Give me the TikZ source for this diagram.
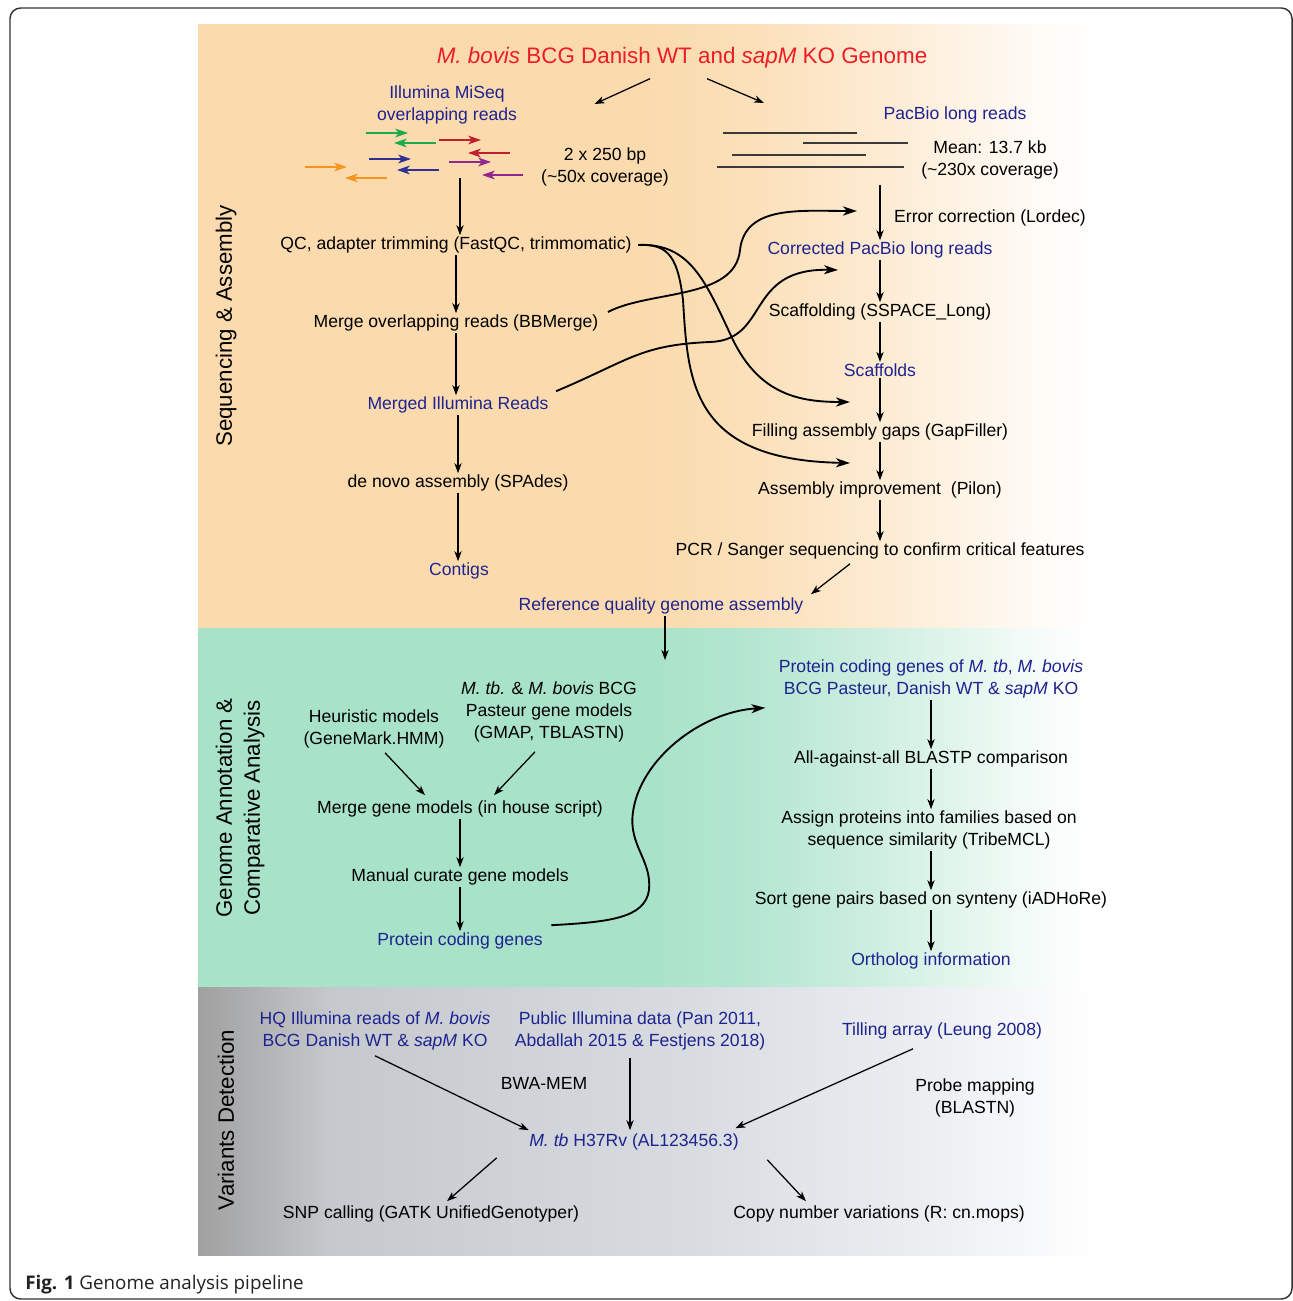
\documentclass[tikz,border=0pt]{standalone}
\usepackage{fontspec}
\setmainfont{Liberation Sans}
\newfontfamily\capfont{Open Sans}
\usetikzlibrary{arrows.meta,calc}
\definecolor{orng}{HTML}{FBDBAE}
\definecolor{grn}{HTML}{A8E2C9}
\definecolor{gryA}{HTML}{A0A0A0}
\definecolor{gryB}{HTML}{C5C8CC}
\definecolor{gryC}{HTML}{D9DDE2}
\definecolor{gryD}{HTML}{EEF0F3}
\colorlet{orA}{orng!85!white}
\colorlet{orB}{orng!60!white}
\colorlet{orC}{orng!30!white}
\colorlet{orD}{orng!10!white}
\colorlet{grA}{grn!85!white}
\colorlet{grB}{grn!60!white}
\colorlet{grC}{grn!30!white}
\colorlet{grD}{grn!10!white}
\definecolor{navy}{HTML}{1E2390}
\definecolor{ttlred}{HTML}{EE1C25}
\definecolor{rgreen}{HTML}{1DAA4B}
\definecolor{rred}{HTML}{C01F2F}
\definecolor{rblue}{HTML}{2E3192}
\definecolor{rpurple}{HTML}{92278F}
\definecolor{rorange}{HTML}{F7941D}
\definecolor{pbgrey}{HTML}{3A3A3A}
\definecolor{framec}{HTML}{333333}
\definecolor{capc}{HTML}{222222}
\pgfdeclarehorizontalshading{orsh}{100bp}{color(0bp)=(orng); color(25bp)=(orng); color(50bp)=(orng); color(56bp)=(orA); color(62bp)=(orB); color(68bp)=(orC); color(72bp)=(orD); color(75bp)=(white); color(100bp)=(white)}
\pgfdeclarehorizontalshading{grsh}{100bp}{color(0bp)=(grn); color(25bp)=(grn); color(50bp)=(grn); color(56bp)=(grA); color(62bp)=(grB); color(68bp)=(grC); color(72bp)=(grD); color(75bp)=(white); color(100bp)=(white)}
\pgfdeclarehorizontalshading{gysh}{100bp}{color(0bp)=(gryA); color(25bp)=(gryA); color(32.4bp)=(gryB); color(53bp)=(gryC); color(67bp)=(gryD); color(75bp)=(white); color(100bp)=(white)}
\newcommand\fsn{\fontsize{13.2}{16.5}\selectfont}
\newcommand\fst{\fontsize{16.8}{20}\selectfont}
\newcommand\fss{\fontsize{16.7}{21}\selectfont}
\begin{document}
\begin{tikzpicture}[x=0.75pt,y=-0.75pt,
  txt/.style={font=\fsn, align=center, inner sep=1pt, text=black, yshift=-1.5pt},
  btxt/.style={txt, text=navy},
  sec/.style={font=\fss, align=center, rotate=90, inner sep=0pt},
  arr/.style={draw, line width=0.95pt, -{Stealth[length=7.5pt,width=5.4pt,inset=2.2pt]}},
  carr/.style={draw, line width=1.4pt, -{Stealth[length=10.5pt,width=6.8pt,inset=3pt]}},
  rd/.style={draw, line width=1.5pt, -{Stealth[length=9.5pt,width=6.5pt,inset=2.5pt]}},
  pb/.style={draw=pbgrey, line width=1.3pt},
]
\useasboundingbox (0,0) rectangle (1292,1301);
\fill[white] (0,0) rectangle (1292,1301);
% ---------- panels ----------
\shade[shading=orsh] (198,25) rectangle (1095,628);
\shade[shading=grsh] (198,628) rectangle (1095,987);
\shade[shading=gysh] (198,987) rectangle (1095,1255);
% ---------- frame ----------
\draw[framec, line width=1.1pt, rounded corners=8pt] (10,8) rectangle (1292,1299);
% ---------- section labels ----------
\node[sec] (s1) at (226,326) {Sequencing \& Assembly};
\node[sec] (s2) at (240,808) {Genome Annotation \&\\Comparative Analysis};
\node[sec] (s3) at (226,1120) {Variants Detection};
% ---------- top panel ----------
\node[font=\fst, text=ttlred, inner sep=1pt, yshift=-2pt] (title) at (682,55) {\textit{M. bovis} BCG Danish WT and \textit{sapM} KO Genome};
\node[btxt] (ill) at (447,103) {Illumina MiSeq\\overlapping reads};
\node[txt] (cov1) at (605,165) {2 x 250 bp\\(\textasciitilde50x coverage)};
\node[btxt] (pbl) at (955,113) {PacBio long reads};
\node[txt] (mean) at (990,158) {Mean: 13.7 kb\\(\textasciitilde230x coverage)};
\draw[arr] ($(title.south)+(-32,9)$) -- ($(ill.east)+(76,-1)$);
\draw[arr] ($(title.south)+(25,9)$) -- ($(pbl.west)+(-118,-12)$);
% reads
\draw[rd, rgreen] (366,133) -- (408,133);
\draw[rd, rgreen] (436,143) -- (394,143);
\draw[rd, rred] (439,140) -- (481,140);
\draw[rd, rred] (510,153) -- (468,153);
\draw[rd, rblue] (369,159) -- (411,159);
\draw[rd, rblue] (439,170) -- (397,170);
\draw[rd, rpurple] (449,162) -- (491,162);
\draw[rd, rpurple] (523,175) -- (482,175);
\draw[rd, rorange] (305,167) -- (347,167);
\draw[rd, rorange] (387,178) -- (345,178);
% pacbio reads
\draw[pb] (723,133) -- (857,133);
\draw[pb] (803,143) -- (908,143);
\draw[pb] (732,155) -- (866,155);
\draw[pb] (717,167) -- (904,167);
% left column
\coordinate (illbot) at (460,178);
\node[txt] (qc) at (456,243) {QC, adapter trimming (FastQC, trimmomatic)};
\node[txt] (bbm) at (456,321) {Merge overlapping reads (BBMerge)};
\node[btxt] (mir) at (458,403) {Merged Illumina Reads};
\node[txt] (spa) at (458,481) {de novo assembly (SPAdes)};
\node[btxt] (ctg) at (459,569) {Contigs};
\draw[arr] (illbot) -- (illbot |- qc.north);
\draw[arr] (qc.south) -- (qc.south |- bbm.north);
\draw[arr] (bbm.south) -- (bbm.south |- mir.north);
\draw[arr] (mir.south) -- (mir.south |- spa.north);
\draw[arr] (spa.south) -- (spa.south |- ctg.north);
% right column
\coordinate (pbtop) at (880,185);
\node[txt] (err) at (990,216) {Error correction (Lordec)};
\node[btxt] (cpb) at (880,248) {Corrected PacBio long reads};
\node[txt] (scf) at (880,310) {Scaffolding (SSPACE\_Long)};
\node[btxt] (sca) at (880,368) {Scaffolds};
\node[txt] (gap) at (880,430) {Filling assembly gaps (GapFiller)};
\node[txt] (pil) at (880,488) {Assembly improvement\ \ (Pilon)};
\node[txt] (pcr) at (880,549) {PCR / Sanger sequencing to confirm critical features};
\node[btxt] (ref) at (661,604) {Reference quality genome assembly};
\draw[arr] (pbtop) -- (pbtop |- cpb.north);
\draw[arr] (cpb.south) -- (cpb.south |- scf.north);
\draw[arr] (scf.south) -- (scf.south |- sca.north);
\draw[arr] (sca.south) -- (sca.south |- gap.north);
\draw[arr] (gap.south) -- (gap.south |- pil.north);
\draw[arr] (pil.south) -- (pil.south |- pcr.north);
\draw[arr] ($(pcr.south)+(-30,3)$) -- ($(ref.north east)+(6,-2)$);
\coordinate (refdown) at (665,660);
\draw[arr] (ref.south -| refdown) -- (refdown);
% curves
\coordinate (cpbin) at (857,211);
\coordinate (scfin) at (838,270);
\coordinate (gapin) at (850,402);
\coordinate (pilin) at (850,463);
\draw[carr] ($(qc.east)+(5,0)$) .. controls (690,243) and (705,280) .. (733,340) .. controls (760,395) and (800,402) .. (gapin);
\draw[carr] ($(qc.east)+(5,0)$) .. controls (670,243) and (678,260) .. (683,300) .. controls (688,380) and (690,460) .. (pilin);
\draw[carr] ($(bbm.east)+(8,-11)$) .. controls (650,290) and (735,300) .. (740,250) .. controls (745,205) and (800,211) .. (cpbin);
\draw[carr] ($(mir.north east)+(6,-4)$) .. controls (630,360) and (640,345) .. (710,342) .. controls (770,340) and (745,268) .. (scfin);
% ---------- middle panel ----------
\node[btxt] (pcg) at (931,677) {Protein coding genes of \textit{M. tb}, \textit{M. bovis}\\BCG Pasteur, Danish WT \& \textit{sapM} KO};
\node[txt] (gm) at (549,710) {\textit{M. tb.} \& \textit{M. bovis} BCG\\Pasteur gene models\\(GMAP, TBLASTN)};
\node[txt] (heu) at (374,727) {Heuristic models\\(GeneMark.HMM)};
\node[txt] (mgm) at (460,807) {Merge gene models (in house script)};
\node[txt] (man) at (460,875) {Manual curate gene models};
\node[btxt] (pcgl) at (460,939) {Protein coding genes};
\draw[arr] ($(heu.south)+(11,3)$) -- ($(mgm.north)+(-35,-4)$);
\draw[arr] ($(gm.south)+(-14,8)$) -- ($(mgm.north)+(34,-4)$);
\draw[arr] (mgm.south) -- (mgm.south |- man.north);
\draw[arr] (man.south) -- (man.south |- pcgl.north);
\draw[carr] ($(pcgl.north east)+(7,-6)$) .. controls (610,922) and (645,918) .. (649,890) .. controls (652,860) and (628,845) .. (633,812) .. controls (640,760) and (700,712) .. ($(pcg.south west)+(-12,8)$);
\node[txt] (bla) at (931,757) {All-against-all BLASTP comparison};
\node[txt] (fam) at (929,828) {Assign proteins into families based on\\sequence similarity (TribeMCL)};
\node[txt] (syn) at (931,898) {Sort gene pairs based on synteny (iADHoRe)};
\node[btxt] (ort) at (931,959) {Ortholog information};
\draw[arr] (pcg.south) -- (pcg.south |- bla.north);
\draw[arr] (bla.south) -- (bla.south |- fam.north);
\draw[arr] (bla.south |- fam.south) -- (bla.south |- syn.north);
\draw[arr] (syn.south) -- (syn.south |- ort.north);
% ---------- bottom panel ----------
\node[btxt] (hq) at (375,1029) {HQ Illumina reads of \textit{M. bovis}\\BCG Danish WT \& \textit{sapM} KO};
\node[btxt] (pub) at (640,1029) {Public Illumina data (Pan 2011,\\Abdallah 2015 \& Festjens 2018)};
\node[btxt] (til) at (942,1029) {Tilling array (Leung 2008)};
\node[txt] (bwa) at (544,1081) {BWA-MEM};
\node[txt] (prb) at (975,1096) {Probe mapping\\(BLASTN)};
\node[btxt] (h37) at (634,1140) {\textit{M. tb} H37Rv (AL123456.3)};
\node[txt] (snp) at (431,1212) {SNP calling (GATK UnifiedGenotyper)};
\node[txt] (cnv) at (879,1212) {Copy number variations (R: cn.mops)};
\draw[arr] ($(hq.south)+(0,4)$) -- ($(h37.north west)+(1,-2)$);
\draw[arr] ($(pub.south)+(-10,6)$) -- ($(h37.north)+(-4,-2)$);
\draw[arr] ($(til.south)+(-29,8)$) -- ($(h37.north east)+(-5,-4)$);
\draw[arr] ($(h37.south west)+(-31,6)$) -- ($(snp.north)+(16,-3)$);
\draw[arr] ($(h37.south east)+(27,8)$) -- ($(cnv.north)+(-73,-3)$);
% ---------- caption ----------
\node[font=\capfont\fontsize{14.1}{17}\selectfont, text=capc, anchor=base west, inner sep=0pt] (cap) at (25,1289) {\textbf{Fig. 1} Genome analysis pipeline};
\end{tikzpicture}
\end{document}
